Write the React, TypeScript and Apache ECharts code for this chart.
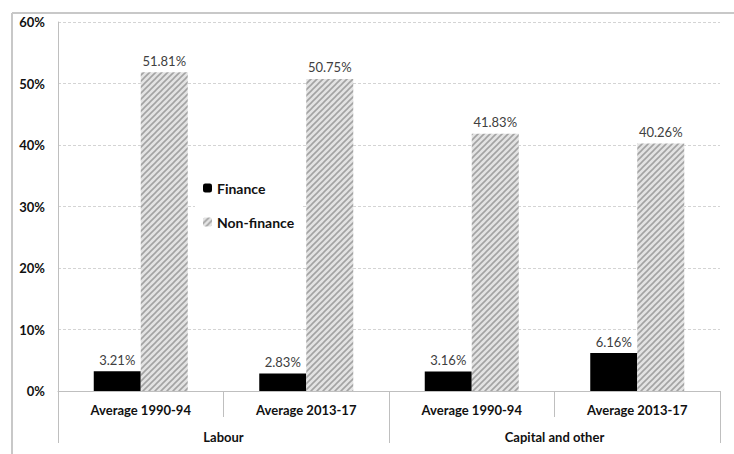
import React, { useEffect, useRef } from "react";
import * as echarts from "echarts";

const categories = ["Average 1990-94", "Average 2013-17", "Average 1990-94", "Average 2013-17"];
const groups = ["Labour", "Capital and other"];
const financeValues = [3.21, 2.83, 3.16, 6.16];
const nonFinanceValues = [51.81, 50.75, 41.83, 40.26];
const seriesNames = ["Finance", "Non-finance"];

function makeHatch() {
  const s = 6;
  const c = document.createElement("canvas");
  c.width = s;
  c.height = s;
  const ctx = c.getContext("2d")!;
  ctx.fillStyle = "#e3e3e3";
  ctx.fillRect(0, 0, s, s);
  ctx.strokeStyle = "#a3a3a3";
  ctx.lineWidth = 1.6;
  ctx.beginPath();
  ctx.moveTo(0, s);
  ctx.lineTo(s, 0);
  ctx.moveTo(-1, 1);
  ctx.lineTo(1, -1);
  ctx.moveTo(s - 1, s + 1);
  ctx.lineTo(s + 1, s - 1);
  ctx.stroke();
  return { image: c, repeat: "repeat", imageWidth: s, imageHeight: s } as any;
}

export default function App() {
  const ref = useRef<HTMLDivElement>(null);
  useEffect(() => {
    if (!ref.current) return;
    const chart = echarts.init(ref.current, undefined, { renderer: "svg" });
    const hatch = makeHatch();
    const font = "Lato";
    const axisGray = "#bfbfbf";
    const labelFmt = (p: any) => Number(p.value).toFixed(2) + "%";
    chart.setOption({
      animation: false,
      backgroundColor: "#ffffff",
      textStyle: { fontFamily: font },
      grid: { left: 58, right: 14, top: 22, bottom: 63, containLabel: false },
      legend: {
        data: seriesNames,
        orient: "vertical",
        left: 195,
        top: 173,
        padding: [8, 8, 8, 8],
        backgroundColor: "#ffffff",
        itemWidth: 9,
        itemHeight: 9,
        itemGap: 20,
        textStyle: { fontFamily: font, fontWeight: "bold", fontSize: 14, color: "#111" },
      },
      graphic: [
        { type: "line", shape: { x1: 12, y1: 13, x2: 734, y2: 13 }, style: { stroke: "#c8c8c8", lineWidth: 2 } },
        { type: "line", shape: { x1: 12, y1: 13, x2: 12, y2: 454 }, style: { stroke: "#c8c8c8", lineWidth: 2 } },
      ],
      xAxis: [
        {
          type: "category",
          data: categories,
          position: "bottom",
          axisLine: { show: true, lineStyle: { color: axisGray, width: 1 } },
          axisTick: { show: true, interval: 0, length: 26, lineStyle: { color: axisGray } },
          axisLabel: { interval: 0, margin: 12, fontFamily: font, fontWeight: "bold", fontSize: 13, color: "#111" },
        },
        {
          type: "category",
          data: groups,
          position: "bottom",
          offset: 0,
          axisLine: { show: false },
          axisTick: { show: true, interval: 0, length: 52, lineStyle: { color: axisGray } },
          axisLabel: { interval: 0, margin: 39, fontFamily: font, fontWeight: "bold", fontSize: 13, color: "#111" },
          splitLine: { show: false },
        },
      ],
      yAxis: {
        type: "value",
        min: 0,
        max: 60,
        interval: 10,
        axisLine: { show: true, lineStyle: { color: axisGray, width: 1 } },
        axisTick: { show: false },
        axisLabel: { formatter: "{value}%", margin: 13, fontFamily: font, fontWeight: "bold", fontSize: 13, color: "#111" },
        splitLine: { show: true, lineStyle: { color: "#d4d4d4", type: [3, 2], width: 1 } },
      },
      series: [
        {
          name: seriesNames[0],
          type: "bar",
          data: financeValues,
          barWidth: 47,
          barGap: "0%",
          itemStyle: { color: "#000000" },
          label: { show: true, position: "top", distance: 5, formatter: labelFmt, fontFamily: font, fontSize: 13, color: "#404040" },
        },
        {
          name: seriesNames[1],
          type: "bar",
          data: nonFinanceValues,
          barWidth: 47,
          barGap: "0%",
          itemStyle: { color: hatch },
          label: { show: true, position: "top", distance: 5, formatter: labelFmt, fontFamily: font, fontSize: 13, color: "#404040" },
        },
      ],
    });
    return () => chart.dispose();
  }, []);
  return <div ref={ref} style={{ position: "absolute", left: 0, top: 0, width: 734, height: 454 }} />;
}
